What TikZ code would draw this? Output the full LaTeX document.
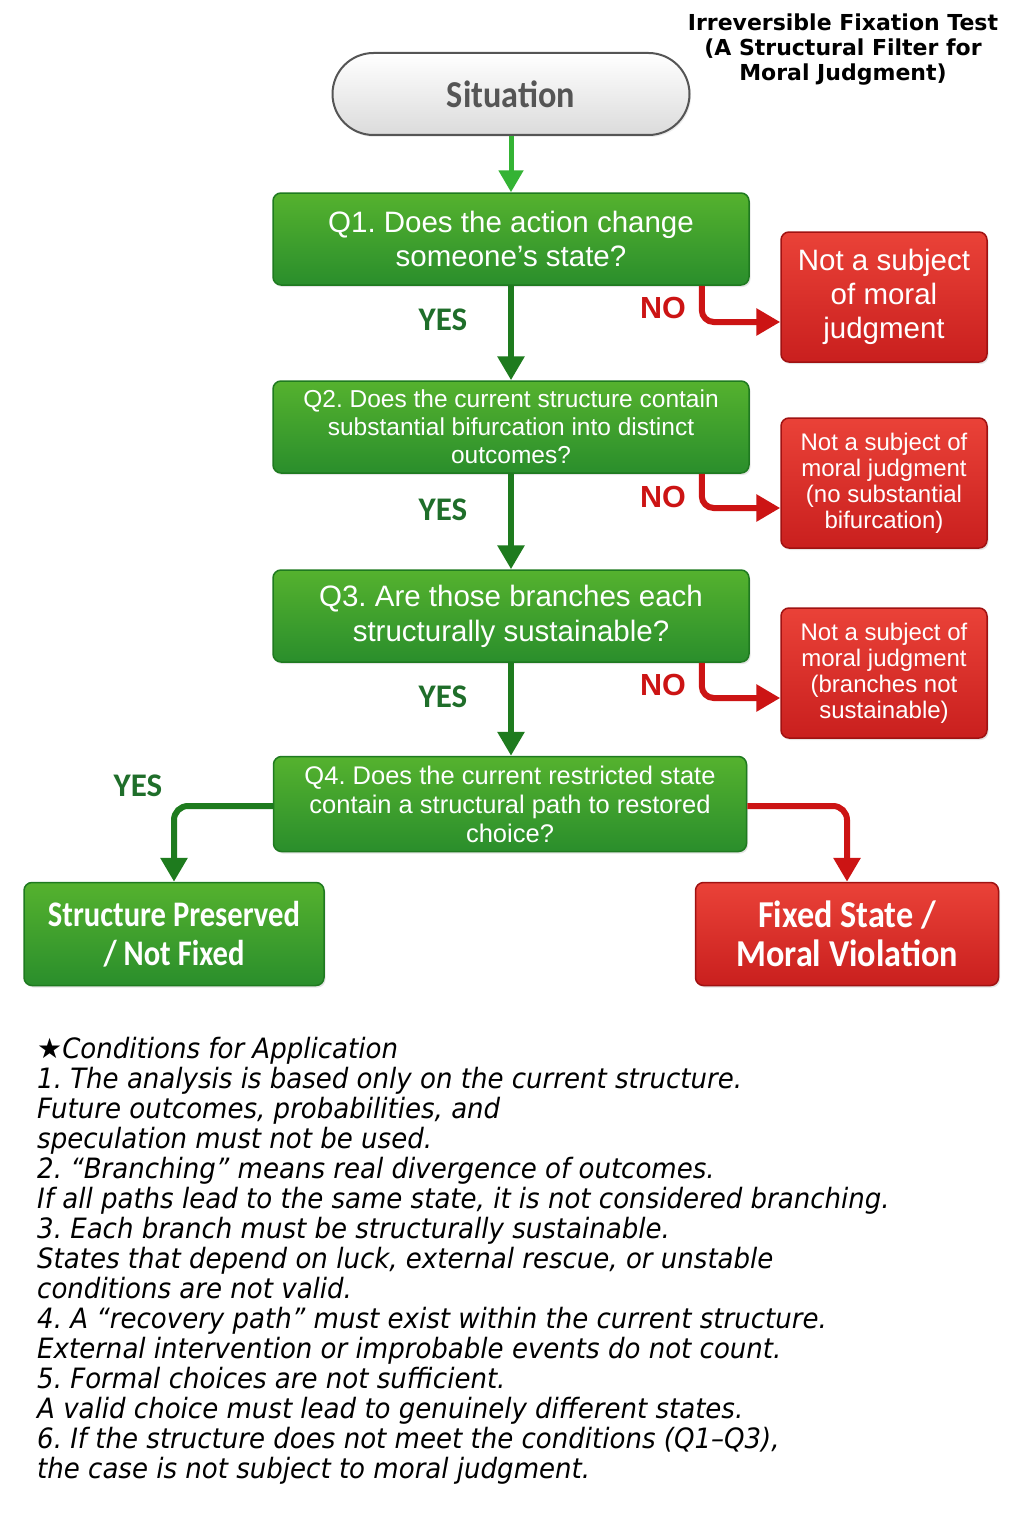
\documentclass[tikz,border=0pt]{standalone}
\usepackage{fontspec}
\setmainfont{Liberation Sans}
\newfontfamily\condb{Carlito}[FakeStretch=0.85]
\newfontfamily\condbw{Carlito}[FakeStretch=0.9]
\newfontfamily\carl{Carlito}
\newfontfamily\dejab{DejaVu Sans}
\newfontfamily\condit{DejaVu Sans Oblique}[FakeStretch=0.93]
\usetikzlibrary{arrows.meta,shadows}
\definecolor{gtop}{HTML}{55B22E}
\definecolor{gbot}{HTML}{2A8E2C}
\definecolor{gborder}{HTML}{1F7A20}
\definecolor{rtop}{HTML}{EA4238}
\definecolor{rbot}{HTML}{C91F1E}
\definecolor{rborder}{HTML}{A01212}
\definecolor{darkg}{HTML}{1E7B1E}
\definecolor{lightg}{HTML}{34B334}
\definecolor{redl}{HTML}{CC1414}
\definecolor{labg}{HTML}{1F6E2A}
\definecolor{sittext}{HTML}{555555}
\tikzset{
  qbox/.style={rectangle, rounded corners=8pt, draw=gborder, line width=1.5pt,
    top color=gtop, bottom color=gbot, text=white, align=center,
    minimum width=476pt, minimum height=92pt, inner sep=0pt,
    drop shadow={opacity=0.2, shadow xshift=1.5pt, shadow yshift=-2pt}},
  rbox/.style={rectangle, rounded corners=8pt, draw=rborder, line width=1.5pt,
    top color=rtop, bottom color=rbot, text=white, align=center,
    minimum width=206pt, minimum height=130pt, inner sep=0pt,
    drop shadow={opacity=0.2, shadow xshift=1.5pt, shadow yshift=-2pt}},
  endbox/.style={rectangle, rounded corners=8pt, line width=1.5pt, text=white, align=center,
    minimum height=103pt, inner sep=0pt,
    drop shadow={opacity=0.2, shadow xshift=1.5pt, shadow yshift=-2pt}},
  garrow/.style={line width=6pt, draw=darkg, -{Triangle[width=26pt,length=24pt]}},
  lgarrow/.style={line width=5pt, draw=lightg, -{Triangle[width=24pt,length=22pt]}},
  rarrow/.style={line width=6pt, draw=redl, -{Triangle[width=26pt,length=24pt]}},
  yeslab/.style={text=labg, font=\carl\bfseries\fontsize{33}{36}\selectfont, inner sep=0pt},
  nolab/.style={text=redl, font=\bfseries\fontsize{30.5}{34}\selectfont, inner sep=0pt},
}
\begin{document}
\frenchspacing
\begin{tikzpicture}[x=1pt,y=-1pt]
\fill[white] (0,0) rectangle (1024,1536);
\useasboundingbox (0,0) rectangle (1024,1536);

% title
\node[font=\dejab\bfseries\fontsize{22}{25}\selectfont, align=center, inner sep=0pt] (title) at (843,50)
  {Irreversible Fixation Test\\(A Structural Filter for\\Moral Judgment)};

% situation
\node[rectangle, rounded corners=41pt, draw=sittext, line width=2pt, top color=white, bottom color=black!14,
  minimum width=357pt, minimum height=82pt, text=sittext,
  font=\condbw\bfseries\fontsize{38}{40}\selectfont,
  drop shadow={opacity=0.15, shadow xshift=1.5pt, shadow yshift=-2pt}] (sit) at (511,94) {Situation};

% questions
\node[qbox, font=\fontsize{29.5}{34}\selectfont] (q1) at (511,239) {Q1. Does the action change\\someone’s state?};
\node[qbox, font=\fontsize{24.5}{28}\selectfont] (q2) at (511,427) {Q2. Does the current structure contain\\substantial bifurcation into distinct\\outcomes?};
\node[qbox, font=\fontsize{29.5}{35}\selectfont] (q3) at (511,616) {Q3. Are those branches each\\structurally sustainable?};
\node[qbox, minimum width=473pt, minimum height=95pt, font=\fontsize{25.5}{29}\selectfont] (q4) at (510,804) {Q4. Does the current restricted state\\contain a structural path to restored\\choice?};

% red side boxes
\node[rbox, font=\fontsize{29.5}{34}\selectfont] (r1) at (884,297) {Not a subject\\of moral\\judgment};
\node[rbox, font=\fontsize{24}{26}\selectfont] (r2) at (884,483) {Not a subject of\\moral judgment\\(no substantial\\bifurcation)};
\node[rbox, font=\fontsize{24}{26}\selectfont] (r3) at (884,673) {Not a subject of\\moral judgment\\(branches not\\sustainable)};

% end boxes
\node[endbox, draw=gborder, top color=gtop, bottom color=gbot, minimum width=300pt,
  font=\condb\bfseries\fontsize{36}{39}\selectfont] (sp) at (174,934) {Structure Preserved\\/ Not Fixed};
\node[endbox, draw=rborder, top color=rtop, bottom color=rbot, minimum width=303pt,
  font=\condbw\bfseries\fontsize{38}{39}\selectfont] (fs) at (847,934) {Fixed State /\\Moral Violation};

% main arrows
\draw[lgarrow] (sit.south) -- (sit.south |- q1.north);
\draw[garrow] (q1.south) -- (q2.north);
\draw[garrow] (q2.south) -- (q3.north);
\draw[garrow] (q3.south) -- (q4.north -| q3.south);

% NO connectors
\draw[rarrow, rounded corners=12pt] ([xshift=-48pt]q1.south east) |- ([yshift=-25pt]r1.west);
\draw[rarrow, rounded corners=12pt] ([xshift=-48pt]q2.south east) |- ([yshift=-25pt]r2.west);
\draw[rarrow, rounded corners=12pt] ([xshift=-48pt]q3.south east) |- ([yshift=-25pt]r3.west);

% Q4 branches
\draw[garrow, rounded corners=14pt] ([yshift=-2pt]q4.west) -| (sp.north);
\draw[rarrow, rounded corners=14pt] ([yshift=-2pt]q4.east) -| (fs.north);

% labels
\node[yeslab] (y1) at (443,320) {YES};
\node[yeslab] (y2) at (443,510) {YES};
\node[yeslab] (y3) at (443,697) {YES};
\node[yeslab] (y4) at (138,786) {YES};
\node[nolab] (n1) at (663,308) {NO};
\node[nolab] (n2) at (663,497) {NO};
\node[nolab] (n3) at (663,685) {NO};

% conditions
\node[anchor=north west, inner sep=0pt, align=left, font=\condit\fontsize{28}{30}\selectfont] (cond) at (37,1037)
{{\dejab ★}Conditions for Application\\
1. The analysis is based only on the current structure.\\
Future outcomes, probabilities, and\\
speculation must not be used.\\
2. “Branching” means real divergence of outcomes.\\
If all paths lead to the same state, it is not considered branching.\\
3. Each branch must be structurally sustainable.\\
States that depend on luck, external rescue, or unstable\\
conditions are not valid.\\
4. A “recovery path” must exist within the current structure.\\
External intervention or improbable events do not count.\\
5. Formal choices are not sufficient.\\
A valid choice must lead to genuinely different states.\\
6. If the structure does not meet the conditions (Q1–Q3),\\
the case is not subject to moral judgment.};
\end{tikzpicture}
\end{document}
